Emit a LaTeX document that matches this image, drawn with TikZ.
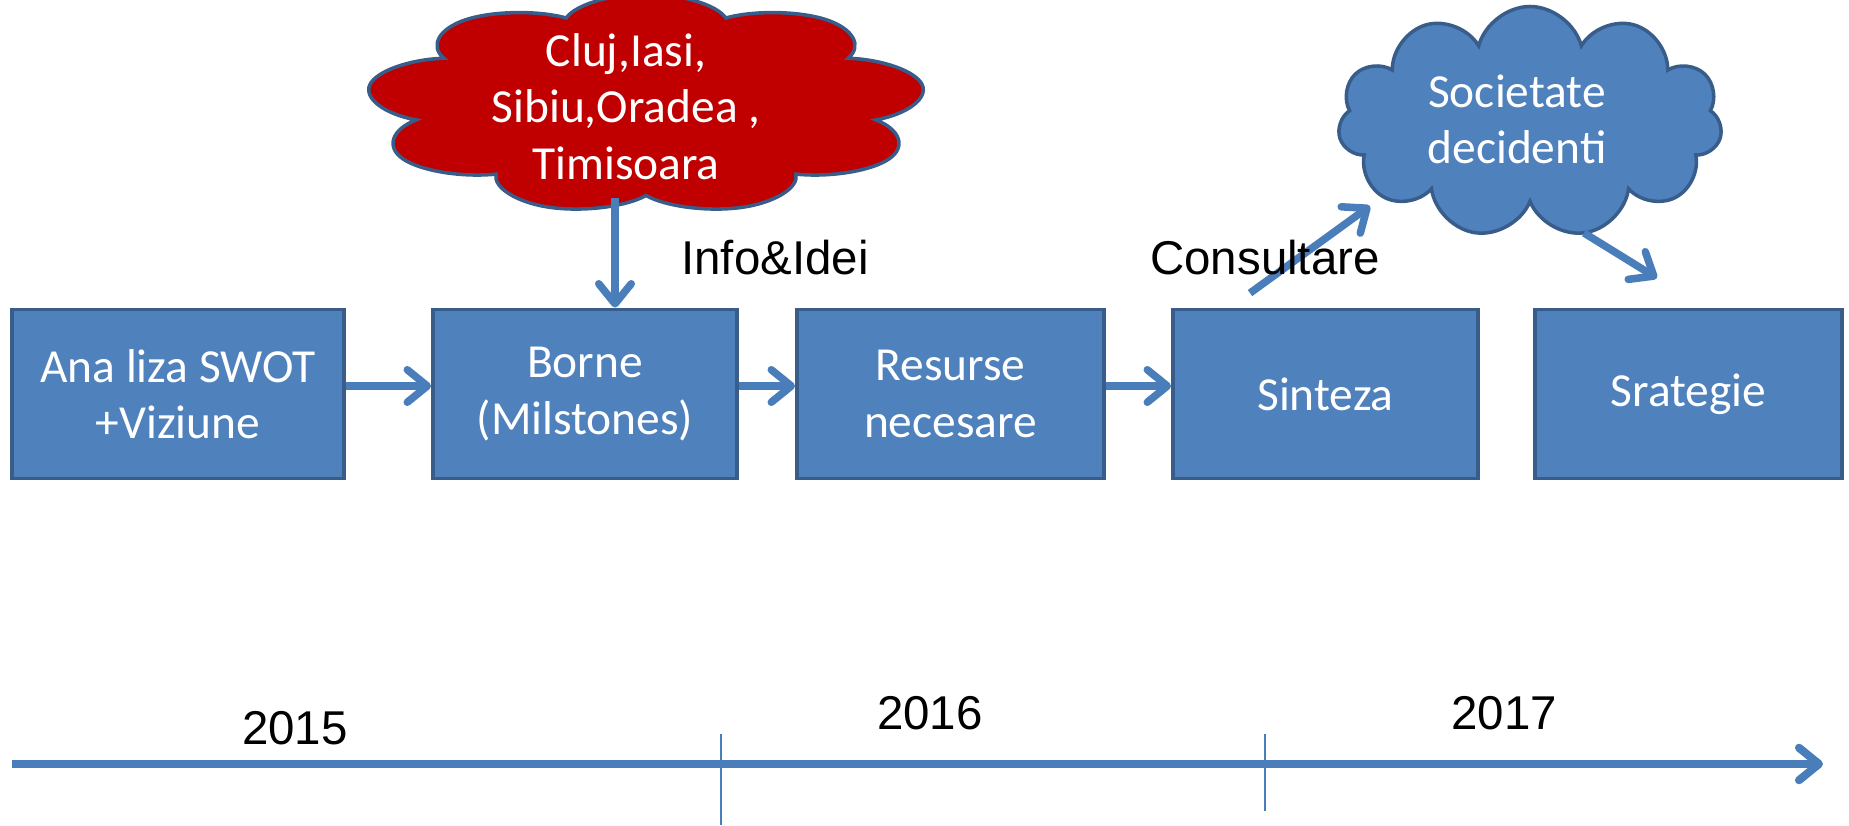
\documentclass[tikz,border=0pt]{standalone}
\usepackage{fontspec}
\setmainfont{Carlito}
\newfontfamily\arialfont{Liberation Sans}
\usetikzlibrary{shapes.symbols, arrows.meta}
\definecolor{boxblue}{HTML}{4F81BD}
\definecolor{edgeblue}{HTML}{385D8A}
\definecolor{arrowblue}{HTML}{4A7EBB}
\definecolor{cloudred}{HTML}{C00000}
\tikzstyle{arrow} = [line width=4.3pt,arrowblue,-{Straight Barb[length=4mm,width=6.5mm,round]}]

\begin{document}
\begin{tikzpicture}
        [
            box/.style={rectangle,draw=edgeblue,fill=boxblue,line width=2.2pt,minimum height=3.38cm,text=white,align=center,font=\fontsize{27}{32}\selectfont},
            puff/.style={cloud,cloud puffs=11,cloud ignores aspect,draw=edgeblue,line width=2pt,inner sep=0pt},
            pufftext/.style={text=white,align=center,font=\fontsize{27}{32}\selectfont},
            tag/.style={font=\arialfont\fontsize{27}{32}\selectfont,anchor=base},
        ]
    \useasboundingbox (0,0) rectangle (36.98,16.5);

    % steps
    \node[box,minimum width=6.64cm] (analiza) at (3.56,8.62) {Ana liza SWOT\\+Viziune};
    \node[box,minimum width=6.08cm] (borne) at (11.70,8.62) {Borne\\(Milstones)};
    \node[box,minimum width=6.14cm] (resurse) at (19.01,8.62) {Resurse\\necesare};
    \node[box,minimum width=6.10cm] (sinteza) at (26.51,8.62) {Sinteza};
    \node[box,minimum width=6.14cm] (strategie) at (33.77,8.62) {Srategie};

    % clouds
    \begin{scope}[shift={(12.92,14.42)}]
        \node[puff,cloud puffs=9,fill=cloudred,minimum width=4.4cm,minimum height=4.4cm,xscale=2.55,transform shape] (orase) at (0,0) {};
    \end{scope}
    \node[pufftext] (orasetext) at ([xshift=-0.4cm,yshift=-0.05cm]orase.center) {Cluj,Iasi,\\Sibiu,Oradea ,\\Timisoara};
    \node[puff,fill=boxblue,minimum width=7.68cm,minimum height=4.62cm,
          label={[pufftext,xshift=-0.26cm,yshift=0.05cm]center:Societate\\decidenti}] (societate) at (30.60,14.06) {};

    \draw[arrow] ([yshift=0.16cm]analiza.east) -- ([yshift=0.16cm]borne.west);
    \draw[arrow] ([yshift=0.16cm]borne.east) -- ([yshift=0.16cm]resurse.west);
    \draw[arrow] ([yshift=0.16cm]resurse.east) -- ([yshift=0.16cm]sinteza.west);
    \draw[arrow] ([xshift=0.6cm]borne.north |- orase.south) -- ([xshift=0.6cm]borne.north);
    \draw[arrow] ([shift={(-1.51,0.29)}]sinteza.north) -- ([shift={(-3.2,-1.68)}]societate.center);
    \draw[arrow] ([shift={(1.08,-2.22)}]societate.center) -- ([shift={(-0.63,0.59)}]strategie.north);

    \node[tag] (info) at (15.5,11.0) {Info\&Idei};
    \node[tag] (consultare) at (25.3,11.0) {Consultare};

    % timeline
    \coordinate (start) at (0.24,1.22);
    \coordinate (end) at (36.46,1.22);
    \coordinate (tick1) at (14.42,1.82);
    \coordinate (tick2) at (25.30,1.82);
    \draw[arrow,line width=4.6pt] (start) -- (end);
    \draw[arrowblue,line width=1.2pt] (tick1) -- ++(0,-1.82);
    \draw[arrowblue,line width=1.2pt] (tick2) -- ++(0,-1.54);
    \node[tag] (y2015) at (5.90,1.62) {2015};
    \node[tag] (y2016) at (18.60,1.92) {2016};
    \node[tag] (y2017) at (30.08,1.92) {2017};
\end{tikzpicture}
\end{document}
